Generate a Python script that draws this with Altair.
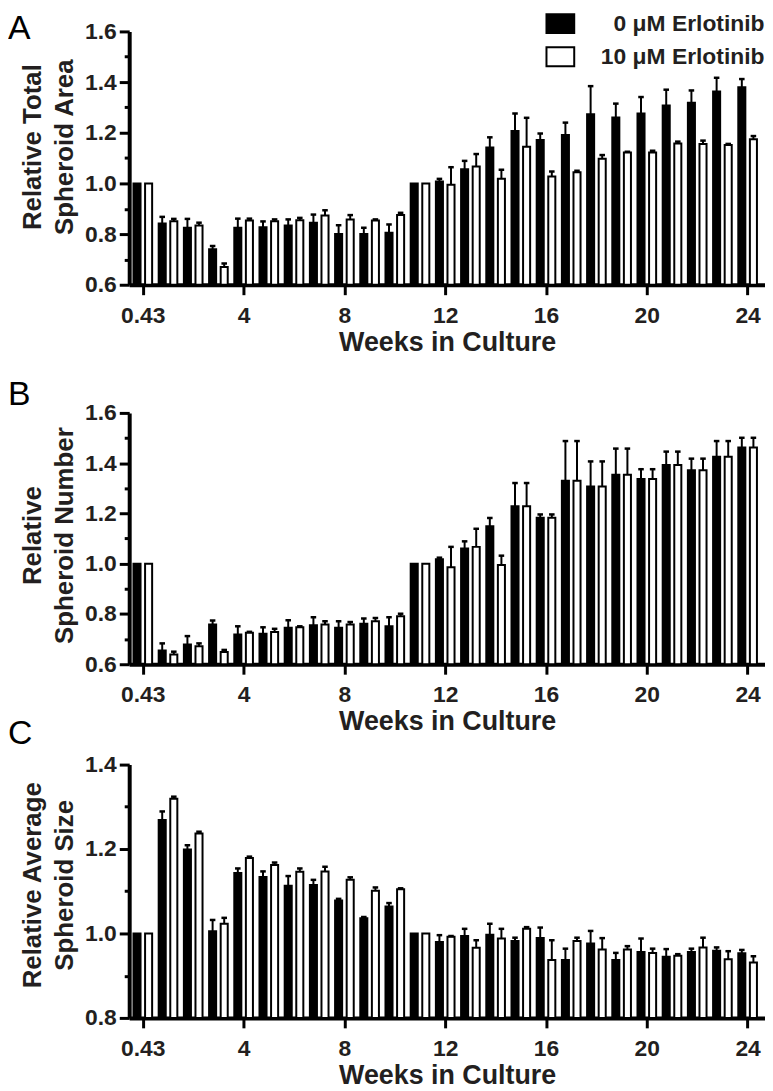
import json
import altair as alt
import pandas as pd

# ---------------- data ----------------
weeks = ["0.43", "1", "2", "3", "4", "5", "6", "7", "8", "9", "10", "11", "12",
         "13", "14", "15", "16", "17", "18", "19", "20", "21", "22", "23", "24"]
treatments = ["0 \u03bcM Erlotinib", "10 \u03bcM Erlotinib"]
x_tick_index = [0, 4, 8, 12, 16, 20, 24]   # category positions of 0.43, 4, 8 ... 24

# Panel A - relative total spheroid area (mean, SEM)
area_0 = [1.0, 0.842, 0.825, 0.74, 0.825, 0.827, 0.834, 0.845, 0.80, 0.80, 0.805, 1.0, 1.008,
          1.056, 1.142, 1.207, 1.171, 1.191, 1.273, 1.26, 1.276, 1.308, 1.318, 1.363, 1.38]
area_0_sem = [0, 0.026, 0.035, 0.013, 0.036, 0.023, 0.024, 0.032, 0.035, 0.025, 0.033, 0, 0.01,
              0.033, 0.04, 0.069, 0.026, 0.049, 0.111, 0.055, 0.065, 0.062, 0.049, 0.054, 0.032]
area_10 = [1.0, 0.851, 0.834, 0.67, 0.854, 0.851, 0.855, 0.873, 0.858, 0.854, 0.875, 1.0, 0.995,
           1.067, 1.018, 1.145, 1.027, 1.044, 1.097, 1.122, 1.122, 1.158, 1.156, 1.152, 1.174]
area_10_sem = [0, 0.009, 0.011, 0.014, 0.007, 0.007, 0.009, 0.021, 0.017, 0.004, 0.009, 0, 0.069,
               0.049, 0.036, 0.114, 0.02, 0.006, 0.015, 0.003, 0.007, 0.007, 0.013, 0.004, 0.013]

# Panel B - relative spheroid number
number_0 = [1.0, 0.655, 0.679, 0.758, 0.718, 0.721, 0.745, 0.755, 0.745, 0.761, 0.751, 1.0, 1.018,
            1.061, 1.149, 1.229, 1.183, 1.330, 1.307, 1.354, 1.337, 1.393, 1.372, 1.426, 1.462]
number_0_sem = [0, 0.028, 0.033, 0.016, 0.033, 0.026, 0.03, 0.032, 0.026, 0.021, 0.036, 0, 0.006,
                0.028, 0.033, 0.092, 0.013, 0.158, 0.1, 0.104, 0.039, 0.053, 0.046, 0.062, 0.039]
number_10 = [1.0, 0.639, 0.672, 0.649, 0.725, 0.728, 0.747, 0.758, 0.758, 0.771, 0.791, 1.0, 0.986,
             1.067, 0.995, 1.229, 1.183, 1.330, 1.307, 1.354, 1.337, 1.393, 1.372, 1.426, 1.462]
number_10_sem = [0, 0.011, 0.011, 0.008, 0.004, 0.013, 0.004, 0.013, 0.01, 0.013, 0.01, 0, 0.081,
                 0.072, 0.037, 0.092, 0.013, 0.158, 0.1, 0.104, 0.039, 0.053, 0.046, 0.062, 0.039]

# Panel C - relative average spheroid size
size_0 = [1.0, 1.269, 1.199, 1.005, 1.143, 1.134, 1.113, 1.115, 1.078, 1.036, 1.064, 1.0, 0.98,
          0.994, 0.997, 0.982, 0.989, 0.937, 0.976, 0.937, 0.956, 0.945, 0.956, 0.959, 0.953]
size_0_sem = [0, 0.02, 0.01, 0.027, 0.011, 0.013, 0.023, 0.012, 0.004, 0.003, 0.008, 0, 0.016,
              0.017, 0.026, 0.008, 0.025, 0.027, 0.03, 0.017, 0.032, 0.018, 0.008, 0.008, 0.008]
size_10 = [1.0, 1.319, 1.237, 1.023, 1.179, 1.162, 1.146, 1.147, 1.127, 1.101, 1.105, 1.0, 0.992,
           0.966, 0.988, 1.011, 0.937, 0.982, 0.962, 0.962, 0.954, 0.947, 0.967, 0.939, 0.931]
size_10_sem = [0, 0.005, 0.004, 0.014, 0.003, 0.006, 0.008, 0.011, 0.006, 0.008, 0.002, 0, 0.002,
               0.018, 0.023, 0.004, 0.047, 0.008, 0.027, 0.008, 0.01, 0.004, 0.023, 0.019, 0.015]

y_ticks_ab = [0.6, 0.7, 0.8, 0.9, 1.0, 1.1, 1.2, 1.3, 1.4, 1.5, 1.6]
y_ticks_c = [0.8, 0.9, 1.0, 1.1, 1.2, 1.3, 1.4]

# ---------------- styling ----------------
FONT = "Liberation Sans"
INK = "#231f20"
PLOT_W = 640


def make_df(v0, s0, v10, s10):
    rows = []
    for i, w in enumerate(weeks):
        rows.append({"week": w, "idx": i, "treatment": treatments[0], "side": -1,
                     "value": v0[i], "sem": s0[i]})
        rows.append({"week": w, "idx": i, "treatment": treatments[1], "side": 1,
                     "value": v10[i], "sem": s10[i]})
    return pd.DataFrame(rows)


def panel(df, letter, letter_y, ytitle, ydom, yvals, height, title_y, legend=None):
    xscale = alt.Scale(domain=[-0.54, 24.69], nice=False, zero=False)
    xaxis = alt.Axis(values=x_tick_index,
                     labelExpr=f"{json.dumps(weeks)}[round(datum.value)]",
                     title="Weeks in Culture", tickSize=10, labelPadding=10,
                     labelFlush=False, labelOverlap=False, labelBound=False,
                     titleY=45, titleBaseline="top", titleFontSize=27, grid=False)
    yscale = alt.Scale(domain=ydom, nice=False, zero=False)
    yaxis = alt.Axis(values=yvals,
                     labelExpr="round(datum.value*10)%2==0 ? format(datum.value,'.1f') : ''",
                     tickSize={"condition": {"test": "round(datum.value*10)%2==0", "value": 10},
                               "value": 5},
                     labelPadding=3, labelFlush=False, labelOverlap=False, labelBound=False,
                     title=ytitle, titleX=-84, titleY=title_y, titleAngle=270,
                     titleBaseline="bottom", titleAlign="center", titleLineHeight=32,
                     titleFontSize=26, grid=False)

    def X(f):
        return alt.X(f, type="quantitative", scale=xscale, axis=xaxis)

    def Y(f):
        return alt.Y(f, type="quantitative", scale=yscale, axis=yaxis)

    base = alt.Chart(df).transform_calculate(
        xa="datum.idx + datum.side*0.09",
        xb="datum.idx + datum.side*0.37",
        xc="datum.idx + datum.side*0.23",
        cl="datum.idx + datum.side*0.23 - 0.11",
        cr="datum.idx + datum.side*0.23 + 0.11",
        top="datum.value + datum.sem",
        base=f"{ydom[0]}",
    )
    fill = alt.Fill("treatment:N",
                    scale=alt.Scale(domain=treatments, range=["black", "white"]),
                    legend=legend)
    bars = base.mark_rect(stroke="black", strokeWidth=2).encode(
        x=X("xa"), x2="xb:Q", y=Y("value"), y2="base:Q", fill=fill)
    errs = base.transform_filter("datum.sem > 0").mark_rule(
        color="black", strokeWidth=2).encode(x=X("xc"), y=Y("value"), y2="top:Q")
    caps = base.transform_filter("datum.sem > 0").mark_rule(
        color="black", strokeWidth=2.5).encode(x=X("cl"), x2="cr:Q", y=Y("top"))
    lab = alt.Chart(pd.DataFrame({"panel": [letter]})).mark_text(
        font=FONT, fontSize=34, align="left", baseline="alphabetic", color="black"
    ).encode(text="panel:N", x=alt.value(-122), y=alt.value(letter_y))
    return alt.layer(bars, errs, caps, lab).properties(width=PLOT_W, height=height)


legend_a = alt.Legend(orient="none", legendX=422.5, legendY=-19.3, title=None,
                      symbolType="M-1.47,-1H1.47V1H-1.47Z", symbolSize=361,
                      symbolStrokeColor="black", symbolStrokeWidth=2, symbolOpacity=1,
                      labelFont=FONT, labelFontSize=23, labelFontWeight="bold",
                      labelColor=INK, labelAlign="right", labelOffset=194,
                      labelLimit=400, rowPadding=6.3, padding=0)

pa = panel(make_df(area_0, area_0_sem, area_10, area_10_sem), "A", 8,
           ["Relative Total", "Spheroid Area"], [0.6, 1.6], y_ticks_ab, 255, 116,
           legend=legend_a)
pb = panel(make_df(number_0, number_0_sem, number_10, number_10_sem), "B", -8.4,
           ["Relative", "Spheroid Number"], [0.6, 1.6], y_ticks_ab, 253, 123)
pc = panel(make_df(size_0, size_0_sem, size_10, size_10_sem), "C", -21,
           ["Relative Average", "Spheroid Size"], [0.8, 1.4], y_ticks_c, 255, 121)

inner = alt.vconcat(pb, pc, spacing=-18).resolve_scale(fill="independent")
chart = alt.vconcat(pa, inner, spacing=22).resolve_scale(fill="independent").properties(
    padding={"left": 0, "top": 0, "right": 0, "bottom": 0}
).configure_view(stroke=None).configure_axis(
    domainColor="black", domainWidth=4, tickColor="black", tickWidth=3,
    labelFont=FONT, labelFontSize=23, labelFontWeight="bold", labelColor=INK,
    titleFont=FONT, titleFontWeight="bold", titleColor=INK,
)

chart.save("out.html", embed_options={"renderer": "svg", "actions": False})
